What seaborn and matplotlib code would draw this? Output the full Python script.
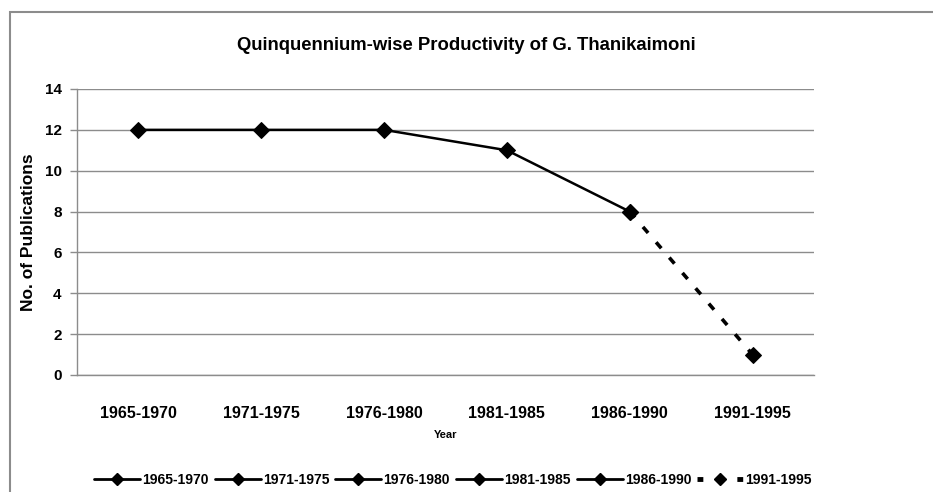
import matplotlib
matplotlib.use("Agg")
import matplotlib.pyplot as plt
import seaborn as sns
import pandas as pd
from matplotlib.lines import Line2D
from matplotlib.patches import Rectangle

periods = ["1965-1970", "1971-1975", "1976-1980", "1981-1985", "1986-1990", "1991-1995"]
publications = [12, 12, 12, 11, 8, 1]
y_ticks = [0, 2, 4, 6, 8, 10, 12, 14]
title = "Quinquennium-wise Productivity of G. Thanikaimoni"
x_label = "Year"
y_label = "No. of Publications"

sns.set_theme(style="white")
plt.rcParams['font.family'] = ['Liberation Sans', 'DejaVu Sans']
plt.rcParams['font.weight'] = 'bold'
plt.rcParams['text.color'] = 'black'
plt.rcParams['axes.labelcolor'] = 'black'
plt.rcParams['xtick.color'] = 'black'
plt.rcParams['ytick.color'] = 'black'

df = pd.DataFrame({"period": periods, "pubs": publications, "pos": range(len(periods))})

fig = plt.figure(figsize=(9.33, 4.92), dpi=100)
ax = fig.add_axes([77/933, 1-375/492, (814-77)/933, (375-89)/492])

dash = (0, (2.2, 3.4))
solid = df.iloc[:5]
dashed = df.iloc[4:]
sns.lineplot(data=dashed, x="pos", y="pubs", ax=ax, color="black", lw=2.6,
             linestyle=dash, marker="D", markersize=8.5,
             markeredgecolor="black", markerfacecolor="black")
sns.lineplot(data=solid, x="pos", y="pubs", ax=ax, color="black", lw=1.8, marker="D",
             markersize=8.5, markeredgecolor="black", markerfacecolor="black")

ax.set_xlim(-0.5, len(periods) - 0.5)
ax.set_ylim(0, 14)
ax.set_yticks(y_ticks)
ax.set_yticklabels([str(v) for v in y_ticks], fontsize=11, fontweight="bold")
ax.set_xticks(range(len(periods)))
ax.set_xticklabels(periods, fontsize=11.5, fontweight="bold")
ax.tick_params(axis="x", length=0, pad=22, labelcolor="black")
ax.tick_params(axis="y", length=5, color="#8c8c8c", width=1, pad=6, left=True, labelcolor="black")
ax.yaxis.grid(True, color="#8c8c8c", lw=1)
ax.xaxis.grid(False)
for s in ["top", "right"]:
    ax.spines[s].set_visible(False)
for s in ["left", "bottom"]:
    ax.spines[s].set_color("#8c8c8c")
    ax.spines[s].set_linewidth(1)
ax.set_xlabel(x_label, fontsize=8, fontweight="bold", labelpad=7, color="black")
ax.set_ylabel(y_label, fontsize=12.5, fontweight="bold", labelpad=6, color="black")

fig.text(0.5, 1-45/492, title, ha="center", va="center", fontsize=13.3, fontweight="bold",
         color="black")

handles = []
for i, p in enumerate(periods):
    if i < 5:
        handles.append(Line2D([0], [0], color="black", lw=2, linestyle="-", marker="D",
                              markersize=6.5, markerfacecolor="black", markeredgecolor="black"))
    else:
        handles.append(Line2D([0], [0], color="black", lw=3.5, linestyle=(0, (1.2, 7.0)),
                              marker="D", markersize=6.5, markerfacecolor="black",
                              markeredgecolor="black"))
fig.legend(handles, periods, loc="center", bbox_to_anchor=(453/933, 1-480/492), ncol=6,
           frameon=False, handlelength=3.3, handletextpad=0.15, columnspacing=0.45,
           prop={"weight": "bold", "size": 10}, labelcolor="black")

fig.patches.append(Rectangle((10/933, -0.1), 1.2, (492-12)/492 + 0.1, transform=fig.transFigure,
                             fill=False, edgecolor="#8c8c8c", lw=1.5))

fig.savefig("out.png", dpi=100)
